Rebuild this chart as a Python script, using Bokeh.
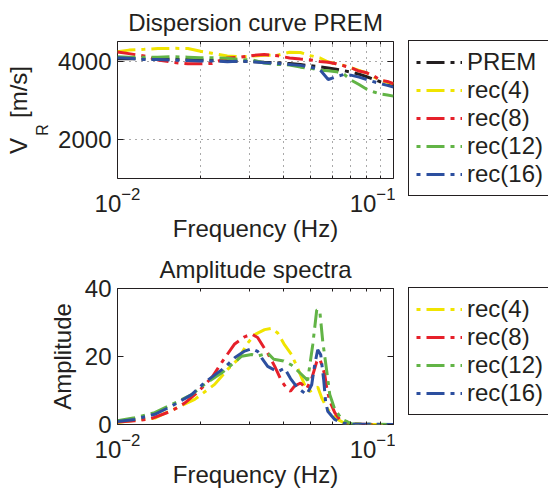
from bokeh.plotting import figure
from bokeh.models import (Range1d, FixedTicker, LogAxis, LinearAxis, Legend,
                          LegendItem, Title, Spacer)
from bokeh.layouts import column, row
from bokeh.embed import file_html
from bokeh.resources import INLINE

# ---------------- data: dispersion curves ----------------
freq_disp = [0.0100, 0.0110, 0.0125, 0.0140, 0.0160, 0.0180, 0.0200, 0.0220,
             0.0250, 0.0280, 0.0310, 0.0340, 0.0380, 0.0420, 0.0460, 0.0500,
             0.0540, 0.0580, 0.0620, 0.0660, 0.0700, 0.0750, 0.0800, 0.0850,
             0.0900, 0.0950, 0.1000]
vr_prem = [4060, 4058, 4055, 4050, 4045, 4040, 4030, 4020, 4005, 3995, 3985,
           3970, 3955, 3935, 3910, 3880, 3855, 3825, 3790, 3755, 3720, 3665,
           3600, 3530, 3465, 3420, 3375]
vr_rec4 = [4240, 4280, 4300, 4320, 4325, 4320, 4250, 4200, 4130, 4110, 4130,
           4150, 4150, 4225, 4220, 4140, 4085, 3975, 3930, 3885, 3830, 3760,
           3700, 3590, 3505, 3460, 3420]
vr_rec8 = [4230, 4190, 4130, 4030, 3965, 3930, 3930, 3940, 4080, 4100, 4145,
           4170, 4135, 4080, 4050, 4030, 3990, 3970, 3930, 3880, 3830, 3745,
           3700, 3615, 3505, 3480, 3420]
vr_rec12 = [4110, 4100, 4100, 4100, 4110, 4100, 4085, 4085, 4070, 4040, 4025,
            3950, 3915, 3900, 3845, 3815, 3770, 3755, 3730, 3670, 3520, 3400,
            3280, 3210, 3155, 3135, 3105]
vr_rec16 = [4085, 4070, 4040, 4040, 4025, 4015, 4000, 4000, 3985, 4000, 3985,
            3960, 3940, 3915, 3890, 3845, 3790, 3530, 3600, 3655, 3640, 3590,
            3530, 3470, 3420, 3380, 3335]

# ---------------- data: amplitude spectra ----------------
freq_a4 = [0.0100, 0.01364, 0.01652, 0.01904, 0.02249, 0.02506, 0.02727,
           0.02962, 0.03138, 0.03413, 0.03622, 0.03806, 0.04032, 0.04271,
           0.04491, 0.04764, 0.0497, 0.0514, 0.05315, 0.05496, 0.0573,
           0.05974, 0.06279, 0.0660, 0.07604, 0.1000]
amp_rec4 = [0.6, 1.9, 5.0, 7.4, 11.8, 16.2, 19.1, 23.9, 26.4, 27.9, 28.3, 26.9,
            23.4, 20.6, 16.6, 11.7, 9.7, 10.5, 11.0, 7.8, 4.9, 2.9, 1.5, 0.5,
            0.0, 0.0]
freq_a8 = [0.0100, 0.01155, 0.0132, 0.01572, 0.01752, 0.01953, 0.0220,
           0.02387, 0.02658, 0.02889, 0.03063, 0.03219, 0.03384, 0.0350,
           0.03713, 0.03932, 0.04133, 0.04236, 0.04379, 0.04606, 0.04846,
           0.05054, 0.05271, 0.05405, 0.05496, 0.05635, 0.0573, 0.05875,
           0.06125, 0.06384, 0.07057, 0.0826, 0.1000]
amp_rec8 = [0.7, 1.1, 1.7, 4.0, 6.3, 9.5, 13.9, 18.3, 23.7, 25.8, 26.6, 25.6,
            22.8, 21.0, 17.1, 12.7, 10.3, 9.8, 11.3, 12.2, 10.5, 13.5, 18.5,
            19.3, 17.6, 14.7, 10.8, 6.9, 3.5, 1.5, 0.2, 0.0, 0.0]
freq_a12 = [0.0100, 0.01155, 0.01364, 0.01572, 0.01857, 0.02066, 0.02387,
            0.02593, 0.02818, 0.03063, 0.03219, 0.0350, 0.03683, 0.03998,
            0.04271, 0.04606, 0.04886, 0.05097, 0.05271, 0.05405, 0.05542,
            0.0573, 0.05875, 0.06125, 0.06491, 0.07057, 0.1000]
amp_rec12 = [1.1, 2.0, 3.5, 5.9, 8.8, 11.8, 15.2, 17.6, 20.1, 20.6, 20.1, 21.0,
             19.2, 18.7, 17.5, 15.0, 13.0, 23.4, 33.7, 33.5, 24.4, 15.7, 8.8,
             4.5, 1.6, 0.2, 0.0]
freq_a16 = [0.0100, 0.01155, 0.01364, 0.01572, 0.01857, 0.02066, 0.02441,
            0.02658, 0.02889, 0.03063, 0.03219, 0.03328, 0.0350, 0.03806,
            0.04032, 0.04236, 0.04491, 0.04846, 0.05054, 0.05183, 0.05315,
            0.0545, 0.05588, 0.0568, 0.05778, 0.05974, 0.06125, 0.06491,
            0.07057, 0.1000]
amp_rec16 = [0.9, 1.5, 3.0, 5.4, 8.8, 12.3, 16.7, 19.6, 21.6, 22.3, 21.5, 19.6,
             17.1, 15.5, 16.6, 13.5, 10.8, 8.8, 11.7, 17.6, 22.0, 20.5, 13.0,
             6.5, 3.9, 2.5, 1.5, 0.4, 0.1, 0.0]

x_major = [0.01, 0.1]
x_minor = [0.02, 0.03, 0.04, 0.05, 0.06, 0.07, 0.08, 0.09]
y_ticks_top = [2000, 4000]
y_ticks_bottom = [0, 20, 40]

labels_top = ["PREM", "rec(4)", "rec(8)", "rec(12)", "rec(16)"]
labels_bottom = ["rec(4)", "rec(8)", "rec(12)", "rec(16)"]

FONT = "Liberation Sans"
TXT = "#231f20"
C_BLACK = "#231f20"
C_YEL = "#f0e400"
C_RED = "#e6202a"
C_GRN = "#62b446"
C_BLU = "#2c4f9f"
colors_top = [C_BLACK, C_YEL, C_RED, C_GRN, C_BLU]
colors_bottom = [C_YEL, C_RED, C_GRN, C_BLU]
DASH = "18 6 4 6"
LW = 3
NB = "\u00a0"


def style(p, yticks, ylabel, ystand, ylabel_size="24px"):
    p.outline_line_color = TXT
    p.outline_line_width = 1
    p.outline_line_alpha = 1
    p.background_fill_color = "white"
    p.border_fill_color = "white"
    p.title.text_font = FONT
    p.title.text_font_size = "24px"
    p.title.text_font_style = "normal"
    p.title.text_color = TXT
    p.title.align = "center"
    p.title.standoff = 12

    xt = FixedTicker(ticks=x_major, minor_ticks=x_minor)
    yt = FixedTicker(ticks=yticks, minor_ticks=[])
    for ax in p.xaxis:
        ax.ticker = xt
        ax.axis_label = "Frequency (Hz)"
        ax.axis_label_standoff = 0
        ax.major_label_standoff = 8
        ax.axis_label_text_font_size = "24px"
    for ax in p.yaxis:
        ax.ticker = yt
        ax.axis_label = ylabel
        ax.axis_label_standoff = ystand
        ax.major_label_standoff = 6
        ax.axis_label_text_font_size = ylabel_size
    for ax in list(p.xaxis) + list(p.yaxis):
        ax.axis_line_color = None
        ax.major_tick_in = 6
        ax.major_tick_out = 0
        ax.minor_tick_in = 3
        ax.minor_tick_out = 0
        ax.major_tick_line_color = TXT
        ax.minor_tick_line_color = TXT
        ax.major_label_text_font = FONT
        ax.major_label_text_font_size = "24px"
        ax.major_label_text_color = TXT
        ax.axis_label_text_font = FONT
        ax.axis_label_text_font_style = "normal"
        ax.axis_label_text_color = TXT
    p.xgrid.ticker = xt
    p.ygrid.ticker = yt

    # mirrored ticks on top and right
    top_ax = LogAxis(ticker=FixedTicker(ticks=x_major, minor_ticks=x_minor),
                     major_label_overrides={0.01: "", 0.1: ""},
                     major_label_text_font_size="0px", major_label_standoff=0,
                     axis_line_color=None, major_tick_in=6, major_tick_out=0,
                     minor_tick_in=3, minor_tick_out=0,
                     major_tick_line_color=TXT, minor_tick_line_color=TXT)
    right_ax = LinearAxis(ticker=FixedTicker(ticks=yticks, minor_ticks=[]),
                          major_label_text_font_size="0px",
                          major_label_overrides={t: "" for t in yticks},
                          major_label_standoff=0, axis_line_color=None,
                          major_tick_in=6, major_tick_out=0,
                          major_tick_line_color=TXT)
    p.add_layout(top_ax, "above")
    p.add_layout(right_ax, "right")


def legend_figure(height, labels, colors, xs, ys):
    # a figure that only holds the legend; its line renderers use the same
    # series but a y range that keeps them out of view, so only the legend
    # samples are drawn
    f = figure(width=140, height=height, x_range=Range1d(0, 1),
               y_range=Range1d(-2, -1), output_backend="svg",
               toolbar_location=None, x_axis_location=None,
               y_axis_location=None, min_border_left=0, min_border_right=0,
               min_border_top=40, min_border_bottom=0)
    f.grid.visible = False
    f.outline_line_color = None
    f.background_fill_color = "white"
    f.border_fill_color = "white"
    items = []
    for lab, col, x, y in zip(labels, colors, xs, ys):
        r = f.line(x, y, line_color=col, line_width=LW, line_dash=DASH,
                   line_dash_offset=24)
        items.append(LegendItem(label=lab, renderers=[r]))
    leg = Legend(items=items, location="top_left", orientation="vertical",
                 label_text_font=FONT, label_text_font_size="24px",
                 label_text_color=TXT, glyph_width=46, glyph_height=28,
                 label_height=28, label_standoff=5, padding=7, spacing=0,
                 margin=0, border_line_color=TXT, border_line_width=1,
                 border_line_alpha=1, background_fill_color="white",
                 background_fill_alpha=1)
    f.add_layout(leg)
    return f


# ---------------- top figure ----------------
top = figure(width=395, height=247, x_axis_type="log",
             x_range=Range1d(0.01, 0.1), y_range=Range1d(1000, 4500),
             output_backend="svg", toolbar_location=None,
             title="Dispersion curve PREM",
             min_border_left=117, min_border_right=2,
             min_border_top=40, min_border_bottom=69)
# subscript R as the axis label, padded so it sits below the centre
style(top, y_ticks_top, "R" + NB * 9, 4, ylabel_size="16px")
top.add_layout(Title(text="V" + NB * 3 + "[m/s]", align="center",
                     text_font=FONT, text_font_size="24px",
                     text_font_style="normal", text_color=TXT,
                     standoff=0), "left")
for g in (top.xgrid, top.ygrid):
    g.grid_line_color = "#555555"
    g.grid_line_dash = "1 5"
    g.grid_line_width = 1
top.xgrid.minor_grid_line_color = "#555555"
top.xgrid.minor_grid_line_dash = "1 5"

vr_all = [vr_prem, vr_rec4, vr_rec8, vr_rec12, vr_rec16]
for vals, col in zip(vr_all, colors_top):
    top.line(freq_disp, vals, line_color=col, line_width=LW, line_dash=DASH)

# ---------------- bottom figure ----------------
bot = figure(width=395, height=251, x_axis_type="log",
             x_range=Range1d(0.01, 0.1), y_range=Range1d(0, 40),
             output_backend="svg", toolbar_location=None,
             title="Amplitude spectra",
             min_border_left=117, min_border_right=2,
             min_border_top=40, min_border_bottom=74)
style(bot, y_ticks_bottom, "Amplitude", 6)
bot.xgrid.visible = False
bot.ygrid.visible = False

f_all = [freq_a4, freq_a8, freq_a12, freq_a16]
a_all = [amp_rec4, amp_rec8, amp_rec12, amp_rec16]
for fx, vals, col in zip(f_all, a_all, colors_bottom):
    bot.line(fx, vals, line_color=col, line_width=LW, line_dash=DASH)

leg_top = legend_figure(247, labels_top, colors_top,
                        [freq_disp] * 5, vr_all)
leg_bot = legend_figure(251, labels_bottom, colors_bottom, f_all, a_all)

layout = row(column(top, bot, spacing=0), Spacer(width=13, height=498),
             column(leg_top, leg_bot, spacing=0), spacing=0)
open("out.html", "w").write(file_html(layout, INLINE))
